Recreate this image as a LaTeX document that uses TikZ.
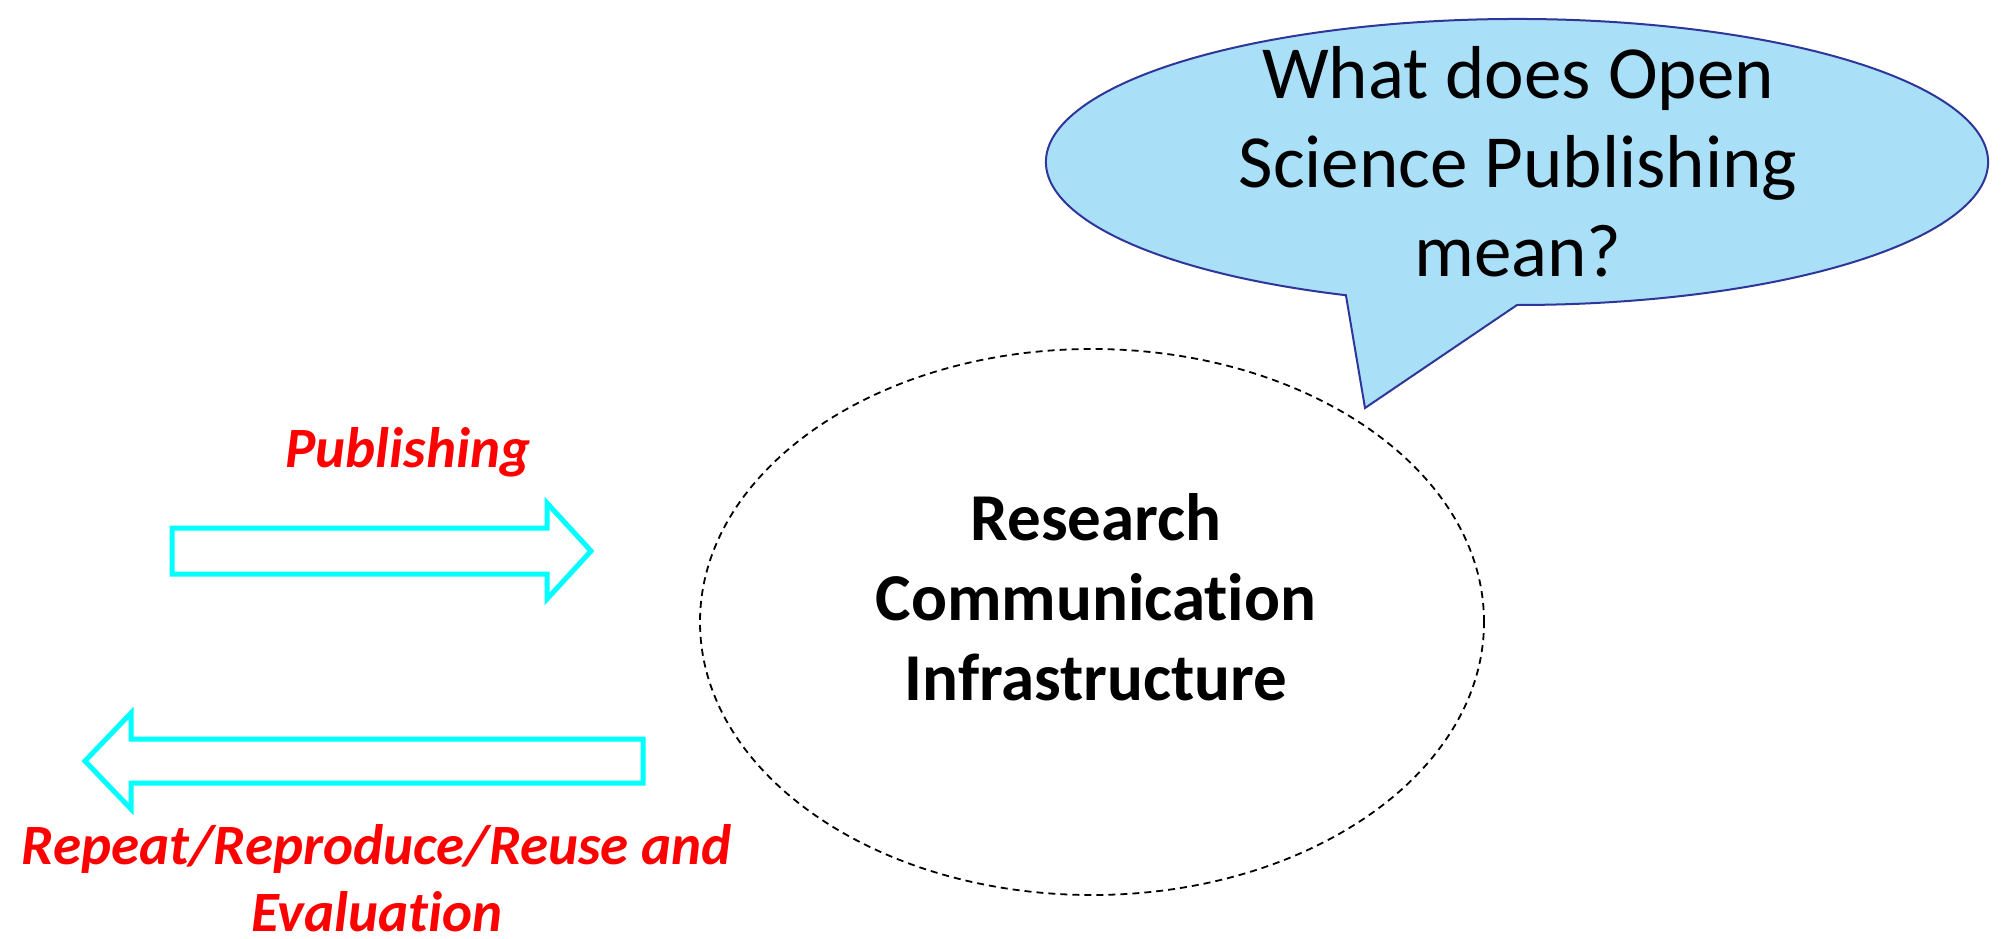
\documentclass[tikz,border=0pt]{standalone}
\usepackage{fontspec}
\setmainfont{Carlito}[Ligatures={NoCommon}]
\usetikzlibrary{shapes.geometric}
\definecolor{bubblefill}{RGB}{169,223,247}
\definecolor{bubbleline}{RGB}{47,54,153}
\definecolor{arrowcyan}{RGB}{0,255,255}
\definecolor{labelred}{RGB}{255,0,0}
\begin{document}
\begin{tikzpicture}[x=1pt,y=1pt,
  blockarrow/.style={draw=arrowcyan, line width=5pt, fill=white, line join=miter},
  redlabel/.style={text=labelred, font=\fontsize{57}{67}\selectfont\bfseries\itshape, align=center, inner sep=0pt},
  bubble/.style={draw=bubbleline, line width=2pt, fill=bubblefill, line join=miter},
  bubbletxt/.style={font=\fontsize{75}{89}\selectfont, align=center, inner sep=0pt},
  rcistyle/.style={draw=black, dashed, dash pattern=on 7pt off 5pt, line width=1.8pt, ellipse, inner sep=0pt, minimum width=784pt, minimum height=546pt},
  rcitxt/.style={font=\fontsize{67}{80}\selectfont\bfseries, align=center, inner sep=0pt}]
\useasboundingbox (0,0) rectangle (2013,-939);

% central dashed ellipse
\node[rcistyle] (rci) at (1092,-622) {};
\node[rcitxt, anchor=base] (rcitext) at (1096,-700) {Research\\Communication\\Infrastructure};

% speech bubble
\draw[bubble] (1517,-162) ++(248.7:471 and 143)
  arc[start angle=248.7, end angle=-90, x radius=471, y radius=143]
  -- (1365,-408) -- cycle;
\node[bubbletxt, anchor=base] (question) at (1518,-276) {What does Open\\Science Publishing\\mean?};

% publishing arrow
\draw[blockarrow] (172,-528) -- (547,-528) -- (547,-503) -- (591,-551) -- (547,-599) -- (547,-574) -- (172,-574) -- cycle;
\node[redlabel, anchor=base] (pub) at (408,-467) {Publishing};

% reuse arrow
\draw[blockarrow] (643,-739) -- (131,-739) -- (131,-713) -- (85,-761) -- (131,-809) -- (131,-783) -- (643,-783) -- cycle;
\node[redlabel, anchor=base, text depth=0pt] (reuse) at (377,-931) {Repeat/Reproduce/Reuse and\\Evaluation};
\end{tikzpicture}
\end{document}
